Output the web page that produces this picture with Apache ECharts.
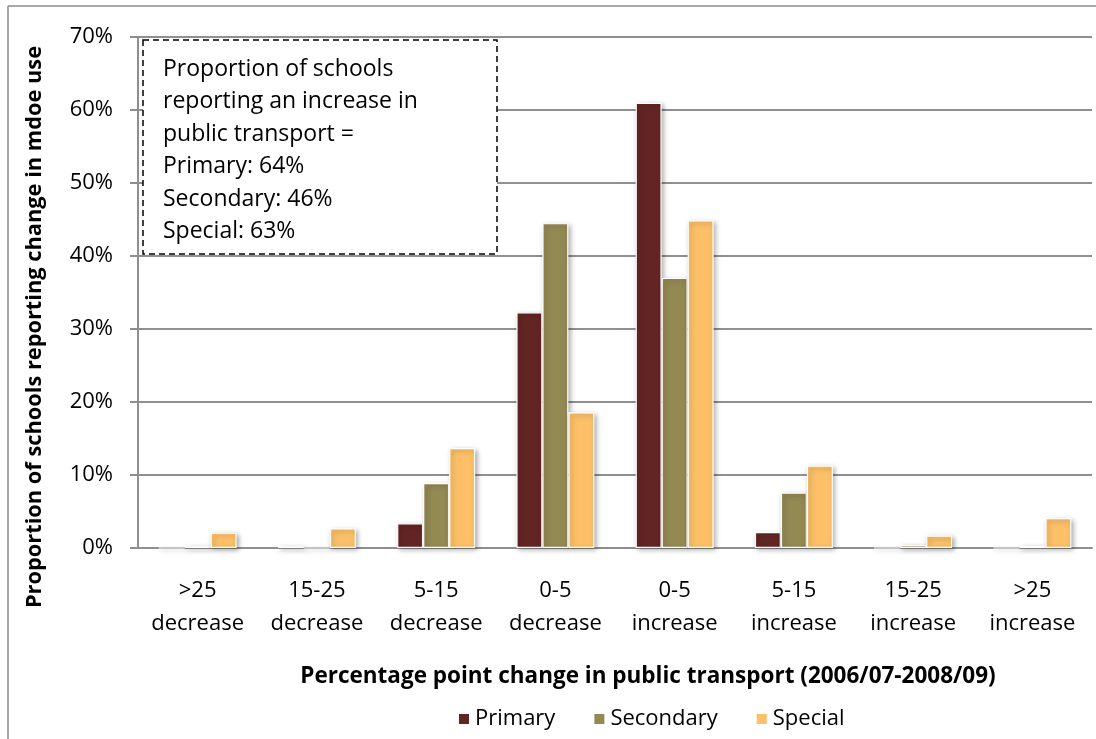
<!DOCTYPE html>
<html>
<head>
<meta charset="utf-8">
<script src="https://cdn.jsdelivr.net/npm/echarts@6/dist/echarts.min.js"></script>
<style>
  html, body { margin: 0; padding: 0; background: #fff; }
  #chart { width: 1096px; height: 739px; }
</style>
</head>
<body>
<div id="chart"></div>
<script>
// Change bands in public-transport mode share
const categories = ['>25\ndecrease', '15-25\ndecrease', '5-15\ndecrease', '0-5\ndecrease',
                    '0-5\nincrease', '5-15\nincrease', '15-25\nincrease', '>25\nincrease'];

// Share of schools (%) in each band
const primary   = [0.0, 0.25, 3.4, 32.3, 61.0, 2.2, 0.0, 0.0];
const secondary = [0.25, 0.0, 8.9, 44.5, 37.0, 7.6, 0.4, 0.3];
const special   = [2.1, 2.7, 13.7, 18.6, 44.9, 11.3, 1.7, 4.1];

const noteLines = [
  'Proportion of schools',
  'reporting an increase in',
  'public transport =',
  'Primary: 64%',
  'Secondary: 46%',
  'Special: 63%'
];

const xTitle = 'Percentage point change in public transport (2006/07-2008/09)';
const yTitle = 'Proportion of schools reporting change in mdoe use';

const FONT = '"Open Sans", "Liberation Sans", sans-serif';
const GRID_GREY = '#8f8f8f';

const barStyle = (color) => ({
  color: color,
  borderColor: '#ffffff',
  borderWidth: 1.2,
  shadowColor: 'rgba(0,0,0,0.35)',
  shadowBlur: 5,
  shadowOffsetX: 2,
  shadowOffsetY: 2
});

const chart = echarts.init(document.getElementById('chart'), null, { renderer: 'canvas' });

chart.setOption({
  backgroundColor: '#ffffff',
  animation: false,
  textStyle: { fontFamily: FONT },
  grid: { left: 138, right: 4, top: 37, bottom: 191 },
  legend: {
    bottom: 4,
    left: 452,
    itemWidth: 12,
    itemHeight: 12,
    itemGap: 37,
    icon: 'rect',
    textStyle: { fontFamily: FONT, fontSize: 22, color: '#000' },
    data: ['Primary', 'Secondary', 'Special']
  },
  xAxis: {
    type: 'category',
    data: categories,
    axisLine: { lineStyle: { color: GRID_GREY, width: 2 } },
    axisTick: { show: false },
    axisLabel: { interval: 0, fontFamily: FONT, fontSize: 22, color: '#000', margin: 26, lineHeight: 33 }
  },
  yAxis: {
    type: 'value',
    min: 0,
    max: 70,
    interval: 10,
    axisLine: { show: true, lineStyle: { color: GRID_GREY, width: 2 } },
    axisTick: { show: true, length: 8, lineStyle: { color: GRID_GREY, width: 2 } },
    axisLabel: { formatter: '{value}%', fontFamily: FONT, fontSize: 22, color: '#000', margin: 25 },
    splitLine: { lineStyle: { color: GRID_GREY, width: 2 } }
  },
  series: [
    { name: 'Primary',   type: 'bar', data: primary,   barWidth: 26, barGap: '0%', itemStyle: barStyle('#632523') },
    { name: 'Secondary', type: 'bar', data: secondary, barWidth: 26, barGap: '0%', itemStyle: barStyle('#938953') },
    { name: 'Special',   type: 'bar', data: special,   barWidth: 26, barGap: '0%', itemStyle: barStyle('#fdc068') }
  ],
  graphic: [
    // outer chart frame (left and top edges)
    { type: 'line', shape: { x1: 8, y1: 6, x2: 8, y2: 739 }, style: { stroke: '#8c8c8c', lineWidth: 1.5 } },
    { type: 'line', shape: { x1: 8, y1: 6, x2: 1096, y2: 6 }, style: { stroke: '#8c8c8c', lineWidth: 1.5 } },
    // axis titles
    {
      type: 'text',
      x: 648, y: 677,
      style: {
        text: xTitle, font: 'bold 22.5px ' + FONT, fill: '#000',
        align: 'center', verticalAlign: 'middle'
      }
    },
    {
      type: 'text',
      x: 35, y: 327,
      rotation: Math.PI / 2,
      style: {
        text: yTitle, font: 'bold 21.8px ' + FONT, fill: '#000',
        align: 'center', verticalAlign: 'middle'
      }
    },
    // dashed note box
    {
      type: 'rect',
      z: 100,
      shape: { x: 143, y: 40, width: 354, height: 214 },
      style: { fill: '#ffffff', stroke: '#000', lineWidth: 1.5, lineDash: [6, 4] }
    },
    {
      type: 'text',
      z: 101,
      left: 163,
      top: 53,
      style: {
        text: noteLines.join('\n'),
        font: '23px ' + FONT,
        fill: '#000',
        lineHeight: 32.5
      }
    }
  ]
});
</script>
</body>
</html>
